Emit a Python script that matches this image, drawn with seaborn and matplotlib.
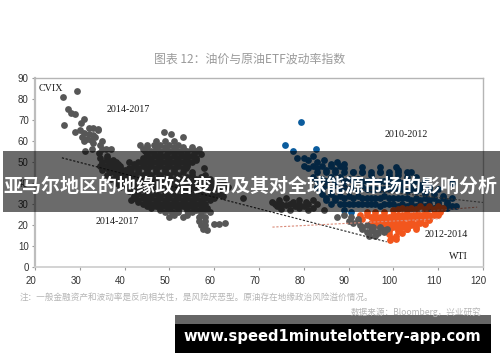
import matplotlib
matplotlib.use("Agg")
import matplotlib.pyplot as plt
import pandas as pd
import seaborn as sns
from matplotlib.patches import Rectangle
from matplotlib.transforms import ScaledTranslation

TITLE = "图表 12：油价与原油ETF波动率指数"
HEADLINE = "亚马尔地区的地缘政治变局及其对全球能源市场的影响分析"
NOTE = "注：一般金融资产和波动率是反向相关性，是风险厌恶型。原油存在地缘政治风险溢价情况。"
SOURCE = "数据来源：Bloomberg，兴业研究"
SITE = "www.speed1minutelottery-app.com"

X_TICKS = [20, 30, 40, 50, 60, 70, 80, 90, 100, 110, 120]
Y_TICKS = [0, 10, 20, 30, 40, 50, 60, 70, 80, 90]

# CVIX points, upper left spike
spike_x = [29.4, 26.2, 26.5, 27.4, 28, 29, 30.2, 31, 32, 33, 34, 30, 31, 32, 33, 34, 35,
           30.5, 31.5, 32.5, 33.5, 34.5, 35, 29, 31, 33, 31.2, 32.8, 34.2, 35.8, 37, 36, 34.5]
spike_y = [83.8, 81, 67.6, 75, 73.5, 73, 68.5, 70.5, 66, 66, 65.5, 65, 64, 63.5, 63, 65, 60,
           62, 61, 60.5, 62, 58, 56, 64.5, 60, 59, 55, 56, 54.5, 56, 56, 53, 52]

# CVIX main blob
blob_x = [48.7, 50.4, 53, 47, 49, 51,
          43.5, 45, 46.5, 48, 50, 52,
          44, 47, 49, 51, 53, 55, 56.5,
          45, 46.5, 48, 49.5, 51, 52.5, 54, 55.5, 57,
          36, 44, 46, 48, 50, 52, 54, 56,
          35, 36.5, 38, 41, 43, 45, 47, 49, 51, 53, 55,
          34.5, 36, 37.5, 39, 42, 44, 46, 48, 50, 52, 54, 57.7,
          35, 36.5, 38, 40, 41.5, 43, 45, 47, 49, 51, 53.6,
          36, 38, 40, 42, 44, 46, 48, 50, 52, 55, 58,
          37, 39, 41, 43, 45, 47, 49, 51, 53, 56, 59,
          38, 40, 42, 44, 46, 48, 50, 52, 54, 57, 60, 62,
          39, 41, 43, 45, 47, 49, 51, 53, 55, 58, 60, 63,
          41, 43, 45, 47, 49, 51, 53, 55, 57, 59, 61,
          42, 44, 46, 48, 50, 52, 54, 56, 58, 60, 62, 66.4,
          41.5, 43, 45, 47, 49, 51, 53, 55, 57, 59,
          44, 46, 48, 50, 52, 54, 56, 58,
          46, 48, 50, 52, 54, 55.5, 57, 58.5,
          49, 50.5, 52, 55, 57, 59,
          50, 53, 56.5, 58,
          56.5, 58, 57, 58, 60, 61, 62.4, 57.5, 58.5]
blob_y = [64.2, 63.5, 62, 60, 60, 60,
          58, 58, 58, 58, 58, 58,
          56, 56, 56, 56, 56, 56, 56,
          54, 54, 54, 54, 54, 54, 54, 54, 54,
          52, 52, 52, 52, 52, 52, 52, 52,
          50, 50, 50, 50, 50, 50, 50, 50, 50, 50, 50,
          48, 48, 48, 48, 48, 48, 48, 48, 48, 48, 48, 47,
          46, 46, 46, 46, 46, 46, 46, 46, 46, 46, 47,
          44, 44, 44, 44, 44, 44, 44, 44, 44, 44, 44,
          42, 42, 42, 42, 42, 42, 42, 42, 42, 42, 42,
          40, 40, 40, 40, 40, 40, 40, 40, 40, 40, 40, 40,
          38, 38, 38, 38, 38, 38, 38, 38, 38, 38, 38, 38,
          36, 36, 36, 36, 36, 36, 36, 36, 36, 36, 36,
          34, 34, 34, 34, 34, 34, 34, 34, 34, 34, 34, 33,
          32, 32, 32, 32, 32, 32, 32, 32, 32, 32,
          30, 30, 30, 30, 30, 30, 30, 30,
          28, 28, 28, 28, 28, 28, 28, 28,
          26, 26, 26, 26, 26, 26,
          24, 24, 24, 24,
          22, 22, 20, 20, 20.5, 20.5, 20.8, 18, 17.5]
blob_fill_x = [45, 47, 49, 51, 53, 55,
               44.5, 46, 48, 50, 52, 54, 56,
               45, 47, 49, 51, 53, 55,
               36, 37.5, 44, 46, 48, 50, 52, 54, 56,
               35, 37, 38.5, 42, 44, 46, 48, 50, 52, 54,
               36, 37.5, 39, 41, 43, 45, 47, 49, 51, 53,
               37, 39, 41, 43, 45, 47, 49, 51, 53, 55,
               38, 40, 42, 44, 46, 48, 50, 52, 54, 57,
               39, 41, 43, 45, 47, 49, 51, 53, 55, 58,
               40, 42, 44, 46, 48, 50, 52, 54, 56, 59, 61,
               42, 44, 46, 48, 50, 52, 54, 56, 58, 60,
               43, 45, 47, 49, 51, 53, 55, 57, 59, 61,
               42, 44, 46, 48, 50, 52, 54, 56, 58, 60,
               43, 45, 47, 49, 51, 53, 55, 57,
               45, 47, 49, 51, 53, 55, 57,
               48, 50, 52, 54, 56, 58,
               51, 54, 57]
blob_fill_y = [57, 57, 57, 57, 57, 57,
               55, 55, 55, 55, 55, 55, 55,
               53, 53, 53, 53, 53, 53,
               51, 51, 51, 51, 51, 51, 51, 51, 51,
               49, 49, 49, 49, 49, 49, 49, 49, 49, 49,
               47, 47, 47, 47, 47, 47, 47, 47, 47, 47,
               45, 45, 45, 45, 45, 45, 45, 45, 45, 45,
               43, 43, 43, 43, 43, 43, 43, 43, 43, 43,
               41, 41, 41, 41, 41, 41, 41, 41, 41, 41,
               39, 39, 39, 39, 39, 39, 39, 39, 39, 39, 39,
               37, 37, 37, 37, 37, 37, 37, 37, 37, 37,
               35, 35, 35, 35, 35, 35, 35, 35, 35, 35,
               33, 33, 33, 33, 33, 33, 33, 33, 33, 33,
               31, 31, 31, 31, 31, 31, 31, 31,
               29, 29, 29, 29, 29, 29, 29,
               27, 27, 27, 27, 27, 27,
               25, 25, 25]

# WTI 2014-2017 points
wti_grey_x = [73, 74.5, 76, 77.5, 79, 80.5, 82, 83, 74, 76, 78, 80, 82, 75, 77, 79, 81,
              84.5, 87.4, 89, 90.5, 92, 91, 92.5, 94, 95.5, 97, 98.6, 93, 95, 96.5, 98, 94.5, 96,
              73.5, 75, 77, 79, 81, 90, 92, 93, 95, 97, 94, 96, 98]
wti_grey_y = [31, 32, 33, 31, 32, 31, 32, 30, 29, 29.5, 29, 29, 28, 27.5, 27, 28, 27,
              27, 24, 25, 24, 23, 21, 20, 20, 19, 18.5, 18, 18, 17, 16, 17.5, 15, 15,
              30, 30, 30, 30, 30, 22, 22, 19, 19, 19, 16.5, 16.5, 16.5]

# WTI 2010-2012 points
blue_x = [79.4, 75.8, 77.6, 82.7, 78.5, 80, 81, 82, 83, 84.5, 86, 87.4, 89, 93, 97, 100.5, 101, 104, 105, 113,
          81, 83, 85, 87, 89, 91, 93, 95, 97, 99, 101, 103,
          82, 84, 86, 88, 90, 92, 94, 96, 98, 100, 102, 104, 106, 108,
          83, 85, 87, 89, 91, 93, 95, 97, 99, 101, 103, 105, 107, 109, 111,
          84, 86, 88, 90, 92, 94, 96, 98, 100, 102, 104, 106, 108, 110, 112, 114,
          85, 87, 89, 91, 93, 95, 97, 99, 101, 103, 105, 107, 109, 111, 113,
          89, 90.5, 104, 108, 112]
blue_y = [69, 58, 55, 56, 52, 52, 51, 53, 50, 51, 49, 50, 49, 47.6, 47.6, 47.8, 46, 45, 43, 40,
          47, 47, 46, 46, 47, 45, 45, 44, 45, 44, 44, 43,
          43, 42, 43, 43, 42, 42, 41, 41, 41, 40, 40, 40, 39, 38,
          38, 39, 39, 38, 38, 38, 37, 37, 37, 37, 36, 36, 35, 35, 34,
          35, 35, 34, 34, 34, 33, 33, 34, 33, 33, 32, 32, 32, 31, 31, 29,
          32, 32, 30, 30, 30, 30, 29, 30, 29, 29, 29, 29, 28, 28, 29,
          27, 26, 28, 28, 28]
blue_fill_x = [80, 82, 84, 86, 88,
               83, 85, 87, 89, 91, 93, 95, 97, 99, 101, 103,
               83, 85, 87, 89, 91, 93, 95, 97, 99, 101, 103, 105, 107,
               84, 86, 88, 90, 92, 94, 96, 98, 100, 102, 104, 106, 108, 110,
               85, 87, 89, 91, 93, 95, 97, 99, 101, 103, 105, 107, 109, 111, 113,
               86, 88, 90, 92, 94, 96, 98, 100, 102, 104, 106, 108, 110, 112]
blue_fill_y = [48, 48, 48, 48, 48,
               45, 45, 45, 45, 45, 45, 45, 45, 45, 45, 45,
               41, 41, 41, 41, 41, 41, 41, 41, 41, 41, 41, 41, 41,
               37, 37, 37, 37, 37, 37, 37, 37, 37, 37, 37, 37, 37, 37,
               33, 33, 33, 33, 33, 33, 33, 33, 33, 33, 33, 33, 33, 33, 33,
               30, 30, 30, 30, 30, 30, 30, 30, 30, 30, 30, 30, 30, 30]

# WTI 2012-2014 points
orange_x = [92.5, 94, 96, 98, 100, 102, 104, 106, 108, 110, 111,
            93, 95, 97, 99, 101, 103, 105, 107, 109, 110.5,
            95, 97, 99, 101, 103, 105, 107, 109,
            96, 98, 100, 102, 104, 106, 108,
            98, 100, 102, 104, 106, 99, 101, 103, 105,
            99, 100.5, 102, 99.5, 100.5, 99.2,
            101, 103, 105, 107, 109,
            94, 96, 98, 100, 102, 104, 106, 108, 110,
            96, 98, 100, 102, 104, 106, 108,
            97, 99, 101, 103, 105, 107,
            99, 101, 103, 105]
orange_y = [25, 26, 26, 26, 27, 28, 28, 29, 29, 29, 28,
            23, 24, 24, 24, 25, 26, 26, 26, 27, 26,
            21, 22, 22, 23, 24, 24, 24, 25,
            20, 20, 21, 21, 22, 22, 23,
            19, 19, 19, 20, 21, 17, 17, 18, 19,
            15.5, 15, 16, 14, 13.5, 12.8,
            27.5, 27.5, 27.5, 27.5, 27.5,
            25, 25, 25, 25, 25, 25, 25, 25, 25,
            22.5, 22.5, 22.5, 22.5, 22.5, 22.5, 22.5,
            20.5, 20.5, 20.5, 20.5, 20.5, 20.5,
            18, 18, 18, 18]

# trend lines, end points
cvix_trend_x = [26, 98.5]
cvix_trend_y = [52, 12]
orange_trend_x = [73, 110.4]
orange_trend_y = [19, 23]
orange_trend2_x = [103.7, 118.7]
orange_trend2_y = [26, 28.5]
blue_trend_x = [80, 121]
blue_trend_y = [40, 30.5]

sns.set_theme(style="white")
plt.rcParams["font.family"] = ["Noto Sans CJK SC", "DejaVu Sans"]

W, H = 500, 362
fig = plt.figure(figsize=(W / 100, H / 100), dpi=100, facecolor="white")
ax = fig.add_axes([35 / W, 1 - 267 / H, 448 / W, 189 / H])

blue = pd.DataFrame({"x": blue_x + blue_fill_x, "y": blue_y + blue_fill_y})
orange = pd.DataFrame({"x": orange_x, "y": orange_y})
grey = pd.DataFrame({"x": spike_x + blob_x + blob_fill_x + wti_grey_x,
                     "y": spike_y + blob_y + blob_fill_y + wti_grey_y})

scatter_kw = dict(x="x", y="y", s=24, linewidth=0, ax=ax, legend=False)
sns.scatterplot(data=blue, color="#0b5c9e", **scatter_kw)
sns.scatterplot(data=orange, color="#f2561d", **scatter_kw)
sns.scatterplot(data=grey, color="#575757", **scatter_kw)

sns.lineplot(x=cvix_trend_x, y=cvix_trend_y, color="#222222", lw=0.8, ls=(0, (2, 1.5)), ax=ax)
sns.lineplot(x=orange_trend_x, y=orange_trend_y, color="#d98a78", lw=0.8, ls=(0, (2, 1.5)), ax=ax)
sns.lineplot(x=orange_trend2_x, y=orange_trend2_y, color="#d98a78", lw=0.8, ls=(0, (2, 1.5)), ax=ax)
sns.lineplot(x=blue_trend_x, y=blue_trend_y, color="#777777", lw=0.8, ls=(0, (2, 1.5)), ax=ax)

ax.set_xlim(20, 120)
ax.set_ylim(0, 90)
ax.set_xticks(X_TICKS)
ax.set_yticks(Y_TICKS)
ax.set_xlabel("")
ax.set_ylabel("")
ax.tick_params(axis="both", length=2.5, width=0.8, color="#999999", labelcolor="#333333",
               labelsize=7, pad=2, bottom=True, left=True)
ax.tick_params(axis="x", pad=4)
for lab in ax.get_xticklabels() + ax.get_yticklabels():
    lab.set_family("Liberation Sans")
for lab in ax.get_xticklabels():
    lab.set_transform(lab.get_transform() + ScaledTranslation(-3 / 72, 0, fig.dpi_scale_trans))
for side, col, lw in [("left", "#bdbdbd", 1.6), ("bottom", "#cccccc", 1.2), ("top", "#b5b5b5", 1), ("right", "#b5b5b5", 1)]:
    ax.spines[side].set_visible(True)
    ax.spines[side].set_color(col)
    ax.spines[side].set_linewidth(lw)

label_kw = dict(family="Liberation Serif", fontsize=7.2, color="#1a1a1a", va="center", ha="left")
ax.text(20.8, 85, "CVIX", **label_kw)
ax.text(36, 75, "2014-2017", **label_kw)
ax.text(33.5, 21.5, "2014-2017", **label_kw)
ax.text(98, 63, "2010-2012", **label_kw)
ax.text(107, 15.5, "2012-2014", **label_kw)
ax.text(112.5, 4.8, "WTI", **label_kw)

fig.text(250 / W, 1 - 59 / H, TITLE, color="#9a9a9a", fontsize=8.6, ha="center", va="center")
fig.text(20 / W, 1 - 297 / H, NOTE, color="#b5b5b5", fontsize=6.2, ha="left", va="center")
fig.text(481 / W, 1 - 312 / H, SOURCE, color="#b5b5b5", fontsize=6.2, ha="right", va="center")

# dark band with headline over the plot
fig.add_artist(Rectangle((3 / W, 1 - 212 / H), 497 / W, 61 / H, transform=fig.transFigure,
                         facecolor="black", alpha=0.58, edgecolor="none"))
fig.text(250 / W, 1 - 186 / H, HEADLINE, color="white", fontsize=13.65, fontweight="bold",
         ha="center", va="center")

# site banner, bottom right
fig.add_artist(Rectangle((175 / W, 1 - 353 / H), 316 / W, 38 / H, transform=fig.transFigure,
                         facecolor="black", edgecolor="none"))
fig.add_artist(Rectangle((175 / W, 1 - 324 / H), 316 / W, 9 / H, transform=fig.transFigure,
                         facecolor="#666666", edgecolor="none"))
fig.text(332 / W, 1 - 337 / H, SITE, color="white", fontsize=10.6, fontweight="bold",
         family="DejaVu Sans", ha="center", va="center")

fig.savefig("out.png", dpi=100)
